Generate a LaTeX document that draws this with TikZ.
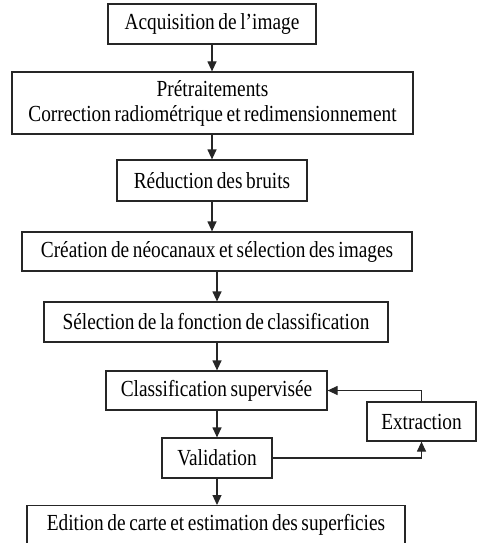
\documentclass[tikz,border=0pt]{standalone}
\usepackage{fontspec}
\setmainfont[FakeStretch=0.84,WordSpace=0.75]{Liberation Serif}
\usetikzlibrary{arrows.meta}
\begin{document}
\begin{tikzpicture}[x=1pt,y=-1pt,
  box/.style={draw=black!85, line width=1.2pt, inner sep=0pt, align=center, font=\fontsize{23}{25}\selectfont},
  arr/.style={draw=black!85, line width=1.2pt, -{Triangle[length=10pt,width=9pt]}}]
\useasboundingbox (0,0) rectangle (477,543);
\node[box, minimum width=208pt, minimum height=40pt] (acq) at (212,24) {Acquisition de l’image};
\node[box, minimum width=401pt, minimum height=62pt] (pre) at (212.5,103) {Prétraitements\\Correction radiométrique et redimensionnement};
\node[box, minimum width=190pt, minimum height=41pt] (red) at (212,180.5) {Réduction des bruits};
\node[box, minimum width=390pt, minimum height=39pt] (neo) at (217,251.5) {Création de néocanaux et sélection des images};
\node[box, minimum width=344pt, minimum height=40pt] (sel) at (216,322) {Sélection de la fonction de classification};
\node[box, minimum width=221pt, minimum height=39pt] (cls) at (216.5,390.5) {Classification supervisée};
\node[box, minimum width=110pt, minimum height=40pt] (val) at (217,458) {Validation};
\node[box, minimum width=378pt, minimum height=42pt, anchor=north] (edi) at (216,505) {};
\node[font=\fontsize{23}{25}\selectfont] (editext) at (216,525) {Edition de carte et estimation des superficies};
\node[box, minimum width=109pt, minimum height=39pt] (ext) at (421.5,421.5) {Extraction};
\draw[arr] (acq.south) -- (acq.south |- pre.north);
\draw[arr] (pre.south -| acq.south) -- (acq.south |- red.north);
\draw[arr] (red.south) -- (red.south |- neo.north);
\draw[arr] (neo.south) -- (neo.south |- sel.north);
\draw[arr] (sel.south -| neo.south) -- (neo.south |- cls.north);
\draw[arr] (cls.south -| neo.south) -- (neo.south |- val.north);
\draw[arr] (val.south) -- (val.south |- edi.north);
\draw[arr] (ext.north) |- (cls.east);
\draw[arr] (val.east) -| (ext.south);
\end{tikzpicture}
\end{document}
